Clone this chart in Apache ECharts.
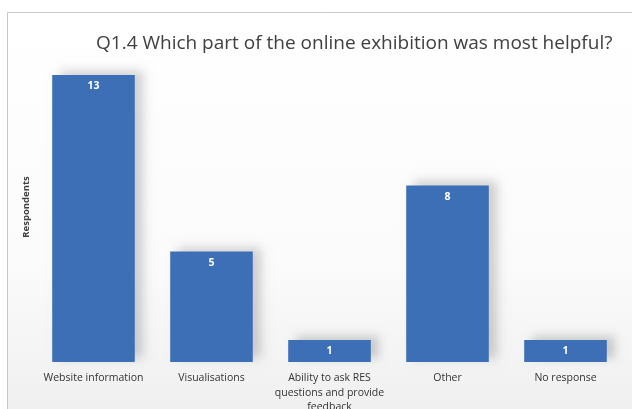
<!DOCTYPE html>
<html>
<head>
<meta charset="utf-8">
<script src="https://cdn.jsdelivr.net/npm/echarts@6/dist/echarts.min.js"></script>
<style>
html, body { margin: 0; padding: 0; background: #fff; }
#main { width: 632px; height: 409px; }
</style>
</head>
<body>
<div id="main"></div>
<script>
var categories = ['Website information', 'Visualisations', 'Ability to ask RES\nquestions and provide\nfeedback', 'Other', 'No response'];
var respondents = [13, 5, 1, 8, 1];

var chart = echarts.init(document.getElementById('main'));
chart.setOption({
    animation: false,
    backgroundColor: '#fff',
    graphic: [{
        type: 'rect',
        z: -10,
        shape: { x: 7.5, y: 12.5, width: 640, height: 420 },
        style: {
            stroke: '#c8c8c8',
            lineWidth: 1,
            fill: new echarts.graphic.LinearGradient(0, 0, 0, 1, [
                { offset: 0, color: '#ffffff' },
                { offset: 0.6, color: '#fbfbfb' },
                { offset: 1, color: '#eeeeee' }
            ])
        }
    }, {
        // y axis title
        type: 'text',
        x: 26,
        y: 207,
        rotation: Math.PI / 2,
        style: {
            text: 'Respondents',
            align: 'center',
            verticalAlign: 'middle',
            fontFamily: 'Open Sans',
            fontSize: 9.5,
            fontWeight: 'bold',
            fill: '#404040'
        }
    }],
    title: {
        text: 'Q1.4 Which part of the online exhibition was most helpful?',
        left: 91,
        top: 29,
        textStyle: {
            fontFamily: 'Open Sans',
            fontSize: 19,
            fontWeight: 'normal',
            color: '#404040'
        }
    },
    grid: {
        left: 34.5,
        right: 7.5,
        top: 75,
        bottom: 47,
        containLabel: false,
        outerBoundsMode: 'none'
    },
    xAxis: {
        type: 'category',
        data: categories,
        axisLine: { show: false },
        axisTick: { show: false },
        axisLabel: {
            interval: 0,
            margin: 9,
            fontFamily: 'Open Sans',
            fontSize: 10.5,
            lineHeight: 14.5,
            color: '#333'
        }
    },
    yAxis: {
        type: 'value',
        min: 0,
        max: 13,
        axisLine: { show: false },
        axisTick: { show: false },
        axisLabel: { show: false },
        splitLine: { show: false }
    },
    series: [{
        type: 'bar',
        data: respondents,
        barWidth: '70%',
        itemStyle: {
            color: '#3c6fb6',
            shadowColor: 'rgba(0,0,0,0.18)',
            shadowBlur: 10,
            shadowOffsetX: 8,
            shadowOffsetY: -4
        },
        label: {
            show: true,
            position: 'insideTop',
            distance: 6,
            color: '#fff',
            fontFamily: 'Open Sans',
            fontWeight: 'bold',
            fontSize: 10.5
        }
    }]
});
</script>
</body>
</html>
